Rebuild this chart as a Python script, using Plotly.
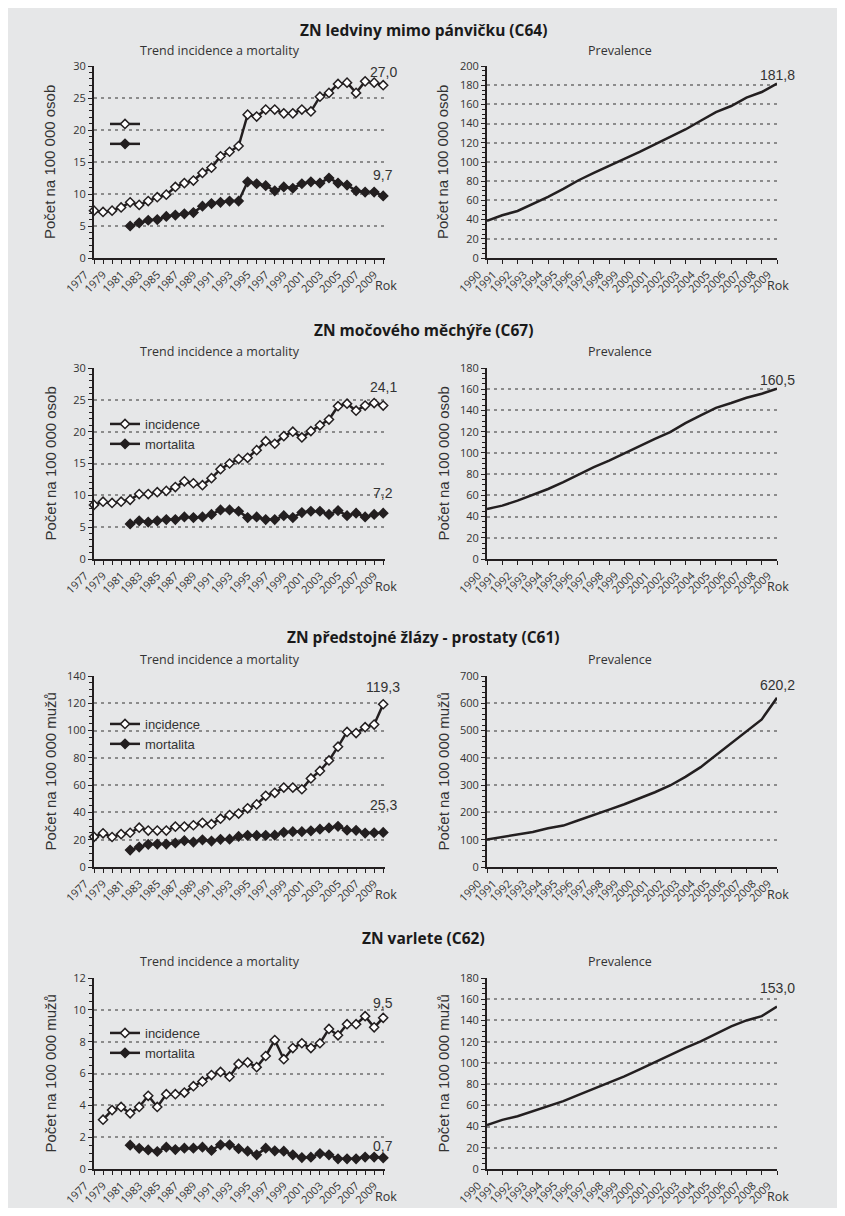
import plotly.graph_objects as go

W, H = 829, 1200   # figure size; page has an 8px default body margin
OFF = 8            # browser default body margin compensation

# ---------------- data ----------------
trend_years = list(range(1977, 2010))          # incidence years
mort_years = list(range(1981, 2010))           # mortality years
c62_inc_years = list(range(1978, 2010))        # testis incidence years
prev_years = list(range(1990, 2010))           # prevalence years
trend_tick_years = list(range(1977, 2010, 2))

titles = ["ZN ledviny mimo pánvičku (C64)",
          "ZN močového měchýře (C67)",
          "ZN předstojné žlázy - prostaty (C61)",
          "ZN varlete (C62)"]
ytitles = ["Počet na 100 000 osob", "Počet na 100 000 osob",
           "Počet na 100 000 mužů", "Počet na 100 000 mužů"]
legend_names = [["", ""], ["incidence", "mortalita"],
                ["incidence", "mortalita"], ["incidence", "mortalita"]]

c64_inc = [7.4, 7.2, 7.4, 7.9, 8.7, 8.3, 8.9, 9.5, 9.9, 11.1, 11.7, 12.1, 13.3, 14.1, 15.9, 16.6, 17.5,
           22.4, 22.1, 23.2, 23.2, 22.6, 22.6, 23.2, 22.9, 25.2, 25.8, 27.2, 27.4, 25.8, 27.6, 27.4, 27.0]
c64_mor = [5.0, 5.5, 5.9, 6.0, 6.5, 6.7, 6.9, 7.1, 8.1, 8.5, 8.7, 8.9, 8.9, 11.9, 11.6, 11.3, 10.5,
           11.1, 10.9, 11.6, 11.9, 11.7, 12.5, 11.7, 11.4, 10.5, 10.3, 10.3, 9.7]
c64_prev = [38.6, 44.5, 49.0, 56.0, 63.7, 72.0, 81.0, 88.7, 95.7, 103.3, 110.6, 118.3, 125.6, 133.9,
            143.0, 152.0, 158.3, 167.0, 172.9, 181.8]

c67_inc = [8.5, 9.0, 8.8, 9.0, 9.3, 10.2, 10.2, 10.5, 10.7, 11.3, 12.2, 11.9, 11.6, 12.7, 14.1, 15.0, 15.7,
           15.9, 17.1, 18.5, 18.1, 19.3, 20.0, 19.1, 20.1, 21.0, 21.9, 24.0, 24.4, 23.3, 24.1, 24.5, 24.1]
c67_mor = [5.5, 6.0, 5.8, 6.0, 6.2, 6.2, 6.6, 6.5, 6.6, 7.0, 7.7, 7.7, 7.5, 6.5, 6.6, 6.2, 6.2, 6.8, 6.5,
           7.3, 7.5, 7.5, 7.0, 7.6, 6.8, 7.2, 6.6, 7.0, 7.2]
c67_prev = [47.2, 50.3, 55.0, 60.4, 66.0, 72.4, 79.6, 86.5, 92.8, 99.7, 106.4, 113.3, 119.6, 128.0,
            135.3, 142.5, 147.0, 152.0, 155.8, 160.5]

c61_inc = [22.1, 24.7, 22.0, 24.1, 25.1, 28.8, 26.7, 26.7, 26.7, 29.6, 29.6, 30.6, 32.4, 31.4, 35.4, 38.1,
           39.2, 43.0, 45.9, 52.2, 54.4, 58.2, 58.2, 57.0, 64.9, 70.4, 78.1, 88.2, 99.0, 98.2, 102.5, 104.4, 119.3]
c61_mor = [12.4, 14.6, 16.6, 16.8, 16.8, 17.6, 19.3, 18.3, 19.9, 19.0, 20.3, 20.4, 22.4, 23.2, 23.1, 23.2,
           23.3, 25.4, 25.9, 25.9, 26.5, 27.7, 28.6, 29.8, 27.0, 26.9, 24.9, 25.1, 25.3]
c61_prev = [100.4, 109.0, 118.7, 128.5, 142.0, 151.8, 171.4, 192.0, 210.5, 230.0, 251.0, 274.0, 298.7,
            330.5, 366.0, 410.0, 452.9, 498.0, 541.0, 620.2]

c62_inc = [3.1, 3.7, 3.9, 3.5, 3.9, 4.6, 3.9, 4.7, 4.7, 4.8, 5.2, 5.5, 5.9, 6.1, 5.8, 6.6, 6.7, 6.4, 7.1,
           8.1, 6.9, 7.6, 7.9, 7.6, 7.9, 8.8, 8.4, 9.1, 9.1, 9.6, 8.9, 9.5]
c62_mor = [1.5, 1.3, 1.2, 1.1, 1.37, 1.22, 1.31, 1.31, 1.37, 1.17, 1.52, 1.52, 1.28, 1.12, 0.89, 1.31,
           1.14, 1.12, 0.89, 0.72, 0.74, 0.97, 0.89, 0.64, 0.64, 0.64, 0.75, 0.75, 0.7]
c62_prev = [41.5, 46.3, 49.7, 54.4, 58.8, 63.9, 69.9, 75.5, 81.2, 87.2, 93.8, 100.7, 107.0, 114.2,
            120.2, 127.4, 134.4, 140.0, 144.1, 153.0]

inc_series = [(trend_years, c64_inc), (trend_years, c67_inc), (trend_years, c61_inc), (c62_inc_years, c62_inc)]
mor_series = [c64_mor, c67_mor, c61_mor, c62_mor]
prev_series = [c64_prev, c67_prev, c61_prev, c62_prev]
inc_labels = ["27,0", "24,1", "119,3", "9,5"]
mor_labels = ["9,7", "7,2", "25,3", "0,7"]
prev_labels = ["181,8", "160,5", "620,2", "153,0"]

# ---------------- styling / layout ----------------
trend_ymax = [30, 30, 140, 12]
trend_dtick = [5, 5, 20, 2]
trend_minor = [1, 1, 5, 0.5]
prev_ymax = [200, 180, 700, 180]
prev_dtick = [20, 20, 100, 20]
prev_minor = [5, 5, 20, 5]

panel_top = [66, 368, 676, 978]
panel_bot = [258, 559, 867, 1169]
title_y = [30, 330, 637, 938]
sub_y = [50, 352, 659, 961]
legend_top = [109, 409, 709, 1018]
inc_shift = [13, 19, 17, 15]
mor_shift = [21, 20, 27, 12]
prev_shift = [8, 9, 13, 19]

LX0, LX1 = 94, 385
RX0, RX1 = 487, 777

INK = "#231f20"
TXT = "#333333"
GRID = "#8c8c8c"
BG = "#e6e7e8"
FONT_MY = "Open Sans"
FONT_AR = "Liberation Sans, Arial"

def px(x):
    return (x - OFF) / W

def py(y):
    return 1 - (y - OFF) / H

fig = go.Figure()
layout = dict(
    template="none",
    width=W, height=H, margin=dict(l=0, r=0, t=0, b=0, pad=0, autoexpand=False),
    paper_bgcolor=BG, plot_bgcolor="rgba(0,0,0,0)",
    font=dict(family=FONT_MY, color=TXT, size=11),
    annotations=[],
)

def axis_common():
    return dict(showline=True, linecolor=INK, linewidth=2, mirror=False, automargin=False,
                ticks="outside", tickcolor=INK, ticklen=4, tickwidth=1.2,
                tickfont=dict(family=FONT_MY, size=11, color=TXT), zeroline=False)

for k in range(4):
    xl, yl = 2 * k + 1, 2 * k + 1
    xr, yr = 2 * k + 2, 2 * k + 2
    sx = lambda n: "" if n == 1 else str(n)
    dom_y = [py(panel_bot[k]), py(panel_top[k])]

    # left trend chart axes
    xa = axis_common()
    xa.update(domain=[px(LX0), px(LX1)], anchor="y" + sx(yl), range=[1977, 2009 + 0.2],
              tickmode="array", tickvals=trend_tick_years, ticktext=[str(v) for v in trend_tick_years],
              tickangle=-45, showgrid=False, ticklabelshift=-9,
              minor=dict(ticks="outside", tick0=1977, dtick=1, ticklen=4, tickcolor=INK, showgrid=False))
    ya = axis_common()
    ya.update(domain=dom_y, anchor="x" + sx(xl), range=[0, trend_ymax[k]], dtick=trend_dtick[k],
              tick0=0, showgrid=True, gridcolor=GRID, gridwidth=1.5, griddash="3px,4px",
              minor=dict(ticks="outside", dtick=trend_minor[k], ticklen=3, tickcolor=INK, showgrid=False))
    layout["xaxis" + sx(xl)] = xa
    layout["yaxis" + sx(yl)] = ya

    # right prevalence chart axes
    xa2 = axis_common()
    xa2.update(domain=[px(RX0), px(RX1)], anchor="y" + sx(yr), range=[1990, 2009],
               tickmode="array", tickvals=prev_years, ticktext=[str(v) for v in prev_years],
               tickangle=-45, showgrid=False, ticklabelshift=-9)
    ya2 = axis_common()
    ya2.update(domain=dom_y, anchor="x" + sx(xr), range=[0, prev_ymax[k]], dtick=prev_dtick[k],
               tick0=0, showgrid=True, gridcolor=GRID, gridwidth=1.5, griddash="3px,4px",
               minor=dict(ticks="outside", dtick=prev_minor[k], ticklen=3, tickcolor=INK, showgrid=False))
    layout["xaxis" + sx(xr)] = xa2
    layout["yaxis" + sx(yr)] = ya2

    leg = "legend" + sx(k + 1)
    iy, iv = inc_series[k]
    fig.add_trace(go.Scatter(x=iy, y=iv, mode="lines+markers", name=legend_names[k][0],
                             xaxis="x" + sx(xl), yaxis="y" + sx(yl), legend=leg, cliponaxis=False,
                             line=dict(color=INK, width=2.5),
                             marker=dict(symbol="diamond", size=7, color="white",
                                         line=dict(color=INK, width=1.5))))
    fig.add_trace(go.Scatter(x=mort_years, y=mor_series[k], mode="lines+markers", name=legend_names[k][1],
                             xaxis="x" + sx(xl), yaxis="y" + sx(yl), legend=leg, cliponaxis=False,
                             line=dict(color=INK, width=2.5),
                             marker=dict(symbol="diamond", size=7, color=INK,
                                         line=dict(color=INK, width=1.5))))
    fig.add_trace(go.Scatter(x=prev_years, y=prev_series[k], mode="lines", showlegend=False,
                             xaxis="x" + sx(xr), yaxis="y" + sx(yr), cliponaxis=False,
                             line=dict(color=INK, width=2.5)))

    layout[leg] = dict(x=px(105), y=py(legend_top[k]), xanchor="left", yanchor="top",
                       bgcolor="rgba(0,0,0,0)", font=dict(family=FONT_AR, size=13, color=TXT),
                       tracegroupgap=0, itemwidth=30, borderwidth=0)

    ann = layout["annotations"]
    ann.append(dict(text="<b>" + titles[k] + "</b>", xref="paper", yref="paper", x=px(423), y=py(title_y[k]),
                    showarrow=False, font=dict(family=FONT_MY, size=15.5, color="#1a1a1a"),
                    xanchor="center", yanchor="middle"))
    ann.append(dict(text="Trend incidence a mortality", xref="paper", yref="paper", x=px(220), y=py(sub_y[k]),
                    showarrow=False, font=dict(family=FONT_MY, size=12.5, color=TXT),
                    xanchor="center", yanchor="middle"))
    ann.append(dict(text="Prevalence", xref="paper", yref="paper", x=px(620), y=py(sub_y[k]),
                    showarrow=False, font=dict(family=FONT_MY, size=12.5, color=TXT),
                    xanchor="center", yanchor="middle"))
    for xc in (50, 443):
        ann.append(dict(text=ytitles[k], xref="paper", yref="paper", x=px(xc),
                        y=py((panel_top[k] + panel_bot[k]) / 2), textangle=-90, showarrow=False,
                        font=dict(family=FONT_AR, size=15, color=TXT), xanchor="center", yanchor="middle"))
    for xc in (386, 778):
        ann.append(dict(text="Rok", xref="paper", yref="paper", x=px(xc), y=py(panel_bot[k] + 27),
                        showarrow=False, font=dict(family=FONT_MY, size=12.5, color=TXT),
                        xanchor="center", yanchor="middle"))
    ann.append(dict(text=inc_labels[k], xref="x" + sx(xl), yref="y" + sx(yl), x=iy[-1], y=iv[-1],
                    yshift=inc_shift[k], showarrow=False, font=dict(family=FONT_AR, size=14, color=TXT),
                    xanchor="center", yanchor="middle"))
    ann.append(dict(text=mor_labels[k], xref="x" + sx(xl), yref="y" + sx(yl), x=mort_years[-1],
                    y=mor_series[k][-1], yshift=mor_shift[k], showarrow=False,
                    font=dict(family=FONT_AR, size=14, color=TXT), xanchor="center", yanchor="middle"))
    ann.append(dict(text=prev_labels[k], xref="x" + sx(xr), yref="y" + sx(yr), x=prev_years[-1],
                    y=prev_series[k][-1], yshift=prev_shift[k], showarrow=False,
                    font=dict(family=FONT_AR, size=14, color=TXT), xanchor="center", yanchor="middle"))

fig.update_layout(**layout)
fig.write_html("out.html")
